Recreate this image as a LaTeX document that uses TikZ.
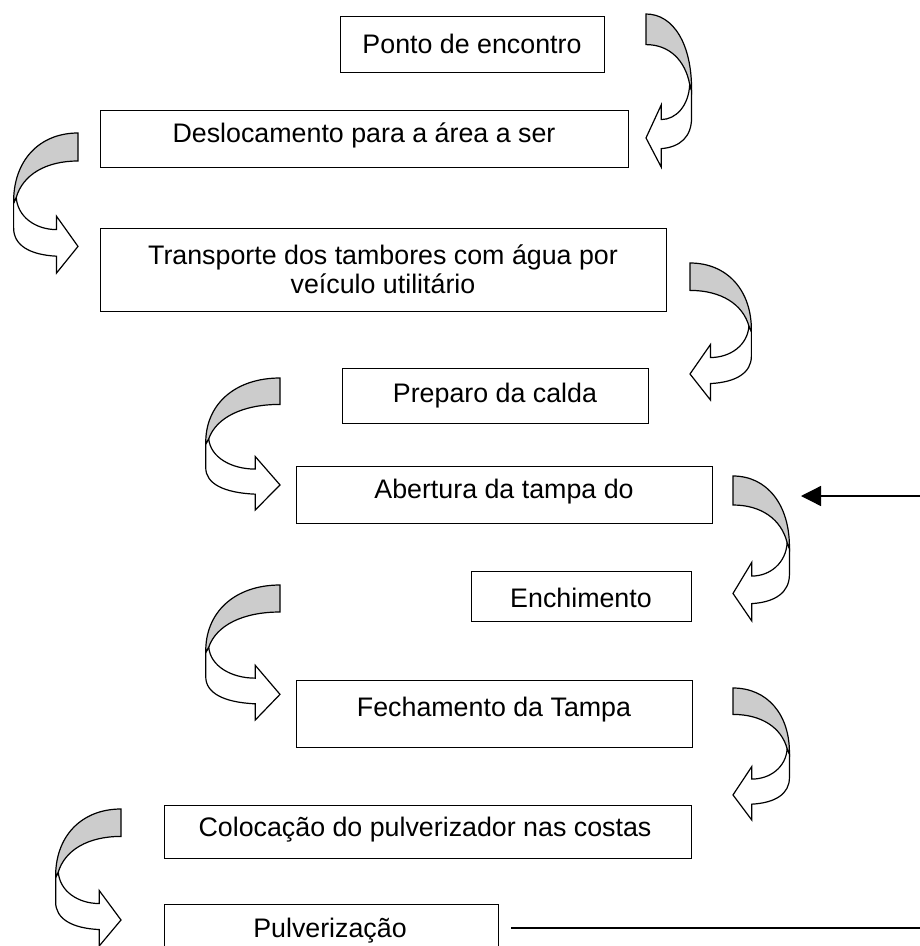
\documentclass[tikz,border=0pt]{standalone}
\usepackage{fontspec}
\setmainfont{Liberation Sans}
\usetikzlibrary{arrows.meta}
\tikzset{
  box/.style={draw, line width=1.3pt, rectangle, inner sep=0pt, anchor=north west},
  txt/.style={font=\fontsize{26.8}{29}\selectfont, inner sep=0pt, align=center},
  arr/.style={draw, line width=1.2pt, line join=miter},
  back/.style={arr, fill=black!20},
  front/.style={arr, fill=white},
}
\newcommand\curvarr[4]{%
  \begin{scope}[shift={(#1,#2)},xscale=#3,yscale=#4]
    \path[front] (0.95,0.46) .. controls (0.93,0.6) and (0.65,0.69) .. (0.33,0.69)
      -- (0.33,0.595) -- (0,0.81) -- (0.33,1) -- (0.33,0.88)
      .. controls (0.75,0.87) and (0.99,0.8) .. (0.99,0.68) -- (0.99,0.5) -- cycle;
    \path[back] (0,0) .. controls (0.6,0) and (1,0.2) .. (0.99,0.5)
      -- (0.95,0.46) .. controls (0.85,0.3) and (0.5,0.2) .. (0,0.2) -- cycle;
  \end{scope}}
\begin{document}
\begin{tikzpicture}[x=1pt,y=-1pt]
\useasboundingbox (0,0) rectangle (920,946);
% boxes
\node[box, minimum width=264pt, minimum height=56pt] (b1) at (340,16) {};
\node[box, minimum width=528pt, minimum height=57pt] (b2) at (100,110) {};
\node[box, minimum width=566pt, minimum height=83pt] (b3) at (100,228) {};
\node[box, minimum width=306pt, minimum height=55pt] (b4) at (342,368) {};
\node[box, minimum width=416pt, minimum height=57pt] (b5) at (296,466) {};
\node[box, minimum width=220pt, minimum height=50pt] (b6) at (471,571) {};
\node[box, minimum width=396pt, minimum height=67pt] (b7) at (296,680) {};
\node[box, minimum width=527pt, minimum height=53pt] (b8) at (164,805) {};
\node[box, minimum width=334pt, minimum height=60pt] (b9) at (164,904) {};
% texts
\node[txt] (t1) at (472,44) {Ponto de encontro};
\node[txt] (t2) at (364,135) {Deslocamento para a área a ser};
\node[txt] (t3) at (383,269) {Transporte dos tambores com água por\\veículo utilitário};
\node[txt] (t4) at (495,396) {Preparo da calda};
\node[txt] (t5) at (504,492) {Abertura da tampa do};
\node[txt] (t6) at (581,598) {Enchimento};
\node[txt] (t7) at (494,710) {Fechamento da Tampa};
\node[txt] (t8) at (425,830) {Colocação do pulverizador nas costas};
\node[txt] (t9) at (330,931) {Pulverização};
% curved arrows
\curvarr{646}{14}{46}{153}
\curvarr{78}{133}{-65}{140}
\curvarr{690}{263}{62}{137}
\curvarr{280}{378}{-75}{132}
\curvarr{733}{476}{57}{145}
\curvarr{280}{585}{-75}{135}
\curvarr{733}{688}{57}{132}
\curvarr{121}{809}{-66}{137}
% straight lines
\coordinate (r1) at (920,496);
\coordinate (r2) at (801,496);
\draw[line width=1.3pt, -{Triangle[length=20pt,width=20pt]}] (r1) -- (r2);
\coordinate (p1) at (511,928);
\coordinate (p2) at (920,928);
\draw[line width=1.3pt] (p1) -- (p2);
\end{tikzpicture}
\end{document}
